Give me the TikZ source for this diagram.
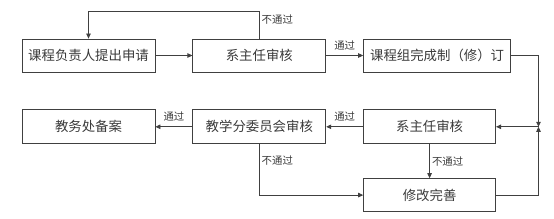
\documentclass[tikz,border=0pt]{standalone}
\usepackage{fontspec}
\setmainfont{Noto Sans CJK SC}
\usetikzlibrary{arrows.meta, positioning}

\definecolor{linegray}{HTML}{404040}
\definecolor{textgray}{HTML}{3A3A3A}

\begin{document}
\begin{tikzpicture}[
    node distance=37pt and 37pt,
    box/.style={rectangle, draw=linegray, line width=0.8pt,
                minimum width=133pt, minimum height=33pt, inner sep=0pt,
                font=\fontsize{13.4}{15}\selectfont, text=textgray},
    arrow/.style={-{Triangle[length=5pt, width=4.5pt]}, draw=linegray, line width=0.8pt},
    lbl/.style={font=\fontsize{10.4}{12}\selectfont, text=textgray, inner sep=2pt}
]
\useasboundingbox (0,0) rectangle (554pt,-219pt);

%% ── Upper row ───────────────────────────────────────────────────────────────
\node[box] (apply) at (88.5pt,-55.5pt) {课程负责人提出申请};
\node[box, right=of apply]                      (head1) {系主任审核};
\node[box, right=of head1, minimum width=147pt] (draft) {课程组完成制（修）订};

\draw[arrow] (apply) -- (head1);
\draw[arrow] (head1) -- node[lbl, above=3pt] {通过} (draft);
\draw[arrow] (head1.north) -- node[lbl, right, pos=0.7] {不通过} ++(0,27pt) -| (apply.north);

%% ── Lower row ───────────────────────────────────────────────────────────────
\node[box, below=of apply, minimum height=34pt] (record) {教务处备案};
\node[box, below=of head1, minimum height=34pt] (board)  {教学分委员会审核};
\node[box, right=of board, minimum width=132pt, minimum height=34pt] (head2) {系主任审核};
\node[box, below=34pt of head2, minimum width=132pt] (revise) {修改完善};

\coordinate[right=42.5pt of head2.east] (join);

\draw[arrow] (draft.east) -| (join);
\draw[arrow] (revise.east) -| (join);
\draw[arrow] (join) -- (head2.east);

\draw[arrow] (head2) -- node[lbl, above=3pt] {通过} (board);
\draw[arrow] (board) -- node[lbl, above=3pt] {通过} (record);
\draw[arrow] (head2) -- node[lbl, right] {不通过} (revise);
\draw[arrow] (board.south) |- node[lbl, right, pos=0.16] {不通过} (revise.west);

\end{tikzpicture}
\end{document}
